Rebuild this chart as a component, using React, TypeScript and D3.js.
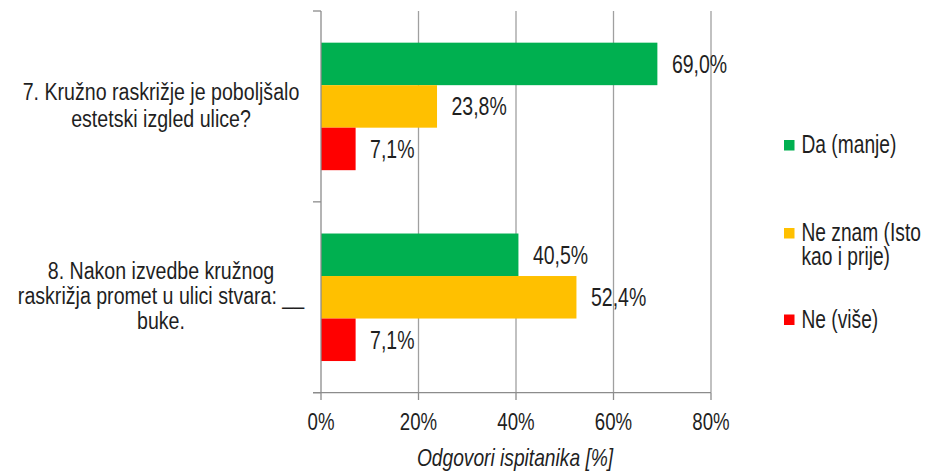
import React from "react";
import * as d3 from "d3";

const categories = [
  ["7. Kružno raskrižje je poboljšalo", "estetski izgled ulice?"],
  ["8. Nakon izvedbe kružnog", "raskrižja promet u ulici stvara: __", "buke."],
];
const seriesNames = ["Da (manje)", "Ne znam (Isto kao i prije)", "Ne (više)"];
const legendLines = [["Da (manje)"], ["Ne znam (Isto", "kao i prije)"], ["Ne (više)"]];
const seriesColors = ["#00B050", "#FFC000", "#FF0000"];
const daValues = [69.0, 40.5];
const neZnamValues = [23.8, 52.4];
const neValues = [7.1, 7.1];
const xTicks = [0, 20, 40, 60, 80];
const axisTitle = "Odgovori ispitanika [%]";

const FONT = "'Liberation Sans', Arial, sans-serif";

function NText(props: {
  x: number; y: number; size: number; sx: number; anchor?: string; italic?: boolean; fill?: string; children: React.ReactNode;
}) {
  return (
    <text
      transform={`translate(${props.x},${props.y}) scale(${props.sx},1)`}
      textAnchor={props.anchor || "start"}
      dominantBaseline="central"
      fontSize={props.size}
      fontStyle={props.italic ? "italic" : "normal"}
      fill={props.fill || "#1f1f1f"}
    >
      {props.children}
    </text>
  );
}

export default function App() {
  const W = 927, H = 473;
  const x = d3.scaleLinear().domain([0, 80]).range([321, 711]);
  const catIdx = categories.map((_, i) => String(i));
  const y = d3.scaleBand().domain(catIdx).range([11, 392.7]).paddingInner(0).paddingOuter(0);
  const bw = y.bandwidth();
  const inner = d3.scaleBand().domain(seriesNames).range([0, bw]).paddingInner(0).paddingOuter(0.745);
  const values = [daValues, neZnamValues, neValues];
  const fmt = (v: number) => v.toFixed(1).replace(".", ",") + "%";
  const grid = "#A0A0A0";
  const axisC = "#8c8c8c";
  const legendY = [145, 233, 319.5];

  return (
    <svg width={W} height={H} style={{ position: "absolute", left: 0, top: 0, background: "#fff" }} fontFamily={FONT}>
      {xTicks.slice(1).map((t) => (
        <line key={"g" + t} x1={x(t)} x2={x(t)} y1={11} y2={392.7} stroke={grid} strokeWidth={1.3} />
      ))}
      {categories.map((_, ci) =>
        seriesNames.map((s, si) => (
          <rect key={ci + "-" + si} x={x(0)} y={(y(String(ci)) as number) + (inner(s) as number)}
            width={x(values[si][ci]) - x(0)} height={inner.bandwidth()} fill={seriesColors[si]} />
        ))
      )}
      <line x1={x(0)} x2={x(0)} y1={11} y2={392.7} stroke={axisC} strokeWidth={1.3} />
      <line x1={313} x2={x(80)} y1={392.7} y2={392.7} stroke={axisC} strokeWidth={1.3} />
      {[11, 11 + bw, 392.7].map((v, i) => (
        <line key={"yt" + i} x1={313} x2={x(0)} y1={v} y2={v} stroke={axisC} strokeWidth={1.3} />
      ))}
      {xTicks.map((t) => (
        <line key={"xt" + t} x1={x(t)} x2={x(t)} y1={392.7} y2={400} stroke={axisC} strokeWidth={1.3} />
      ))}
      {xTicks.map((t) => (
        <NText key={"xl" + t} x={x(t)} y={422} anchor="middle" size={24} sx={0.777}>
          {t + "%"}
        </NText>
      ))}
      <NText x={515} y={458} anchor="middle" size={24} sx={0.8} italic>
        {axisTitle}
      </NText>
      {categories.map((_, ci) =>
        seriesNames.map((s, si) => (
          <NText key={"v" + ci + si} x={x(values[si][ci]) + 14.5}
            y={(y(String(ci)) as number) + (inner(s) as number) + inner.bandwidth() / 2} size={26} sx={0.75}>
            {fmt(values[si][ci])}
          </NText>
        ))
      )}
      {categories.map((lines, ci) => {
        const cy = (y(String(ci)) as number) + bw / 2 - 1.5;
        const lh = ci === 0 ? 27 : 25;
        return lines.map((ln, li) => (
          <NText key={"c" + ci + li} x={161} y={cy + (li - (lines.length - 1) / 2) * lh} anchor="middle" size={24.5} sx={0.8}>
            {ln}
          </NText>
        ));
      })}
      {legendLines.map((lines, i) => (
        <g key={"lg" + i}>
          <rect x={784} y={legendY[i] - 5} width={10.5} height={10.5} fill={seriesColors[i]} />
          {lines.map((ln, li) => (
            <NText key={li} x={801.5} y={legendY[i] + li * 24} size={25} sx={0.768}>
              {ln}
            </NText>
          ))}
        </g>
      ))}
    </svg>
  );
}
